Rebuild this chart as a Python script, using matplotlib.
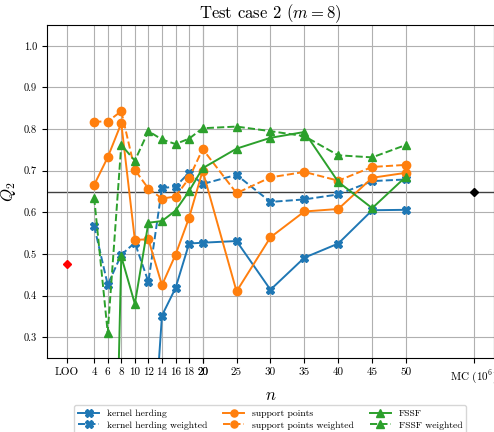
import matplotlib
matplotlib.use("Agg")
import matplotlib.pyplot as plt
import numpy as np

plt.rcParams['font.family'] = ['cmr10', 'DejaVu Serif']
plt.rcParams['mathtext.fontset'] = 'cm'
plt.rcParams['axes.unicode_minus'] = False
plt.rcParams['axes.formatter.use_mathtext'] = True

# sample sizes
ns = [4, 6, 8, 10, 12, 14, 16, 18, 20, 25, 30, 35, 40, 45, 50]

kh = [np.nan, np.nan, np.nan, np.nan, -0.13, 0.352, 0.418, 0.525, 0.527, 0.531, 0.414, 0.491, 0.525, 0.605, 0.606]
kh_w = [0.567, 0.426, 0.498, 0.527, 0.433, 0.658, 0.662, 0.695, 0.668, 0.690, 0.625, 0.631, 0.643, 0.675, 0.679]
sp = [0.666, 0.732, 0.814, 0.534, 0.535, 0.425, 0.498, 0.587, 0.700, 0.410, 0.540, 0.602, 0.608, 0.683, 0.695]
sp_w = [0.818, 0.818, 0.843, 0.702, 0.657, 0.633, 0.638, 0.682, 0.752, 0.646, 0.684, 0.697, 0.676, 0.709, 0.714]
fssf = [np.nan, -0.9, 0.494, 0.380, 0.575, 0.579, 0.604, 0.651, 0.706, 0.753, 0.779, 0.793, 0.673, 0.610, 0.686]
fssf_w = [0.635, 0.311, 0.762, 0.724, 0.795, 0.775, 0.764, 0.777, 0.802, 0.806, 0.795, 0.783, 0.737, 0.732, 0.762]

q2_loo = 0.477
q2_mc = 0.65
x_loo = 0
x_mc = 60

tick_pos = [x_loo] + list(range(4, 21, 2)) + list(range(20, 51, 5)) + [x_mc]
tick_lab = ["LOO"] + [str(v) for v in range(4, 21, 2)] + [str(v) for v in range(20, 51, 5)] + ["MC ($10^6$)"]

fig = plt.figure(figsize=(4.94, 4.32), dpi=100)
ax = fig.add_axes([0.0945, 0.1713, 0.906, 0.7708])

ax.grid(True, color="#b0b0b0", linewidth=0.8, zorder=0)
ax.axhline(q2_mc, color="k", linewidth=1.0, alpha=0.75, zorder=1)

ax.plot(ns, kh, color="C0", marker="X", ms=6, lw=1.4, label="kernel herding")
ax.plot(ns, kh_w, color="C0", marker="X", ms=6, lw=1.4, ls="--", label="kernel herding weighted")
ax.plot(ns, sp, color="C1", marker="o", ms=6, lw=1.4, label="support points")
ax.plot(ns, sp_w, color="C1", marker="o", ms=6, lw=1.4, ls="--", label="support points weighted")
ax.plot(ns, fssf, color="C2", marker="^", ms=6, lw=1.4, label="FSSF")
ax.plot(ns, fssf_w, color="C2", marker="^", ms=6, lw=1.4, ls="--", label="FSSF weighted")

ax.plot([x_loo], [q2_loo], marker="D", color="red", ms=4.5, ls="none")
ax.plot([x_mc], [q2_mc], marker="D", color="black", ms=4.5, ls="none")

ax.set_xticks(tick_pos)
ax.set_xticklabels(tick_lab, fontsize=8)
ax.set_yticks(np.arange(0.3, 1.01, 0.1))
ax.set_yticklabels(["%.1f" % v for v in np.arange(0.3, 1.01, 0.1)], fontsize=7.5)
ax.set_xlim(-3, 63)
ax.set_ylim(0.25, 1.05)

ax.set_xlabel("$n$", fontsize=12, labelpad=2)
ax.set_ylabel("$Q_2$", fontsize=12, labelpad=4)
ax.set_title("Test case 2 ($m=8$)", fontsize=12, pad=4)

fig.legend(*ax.get_legend_handles_labels(), loc="lower center", ncol=3,
           bbox_to_anchor=(0.547, -0.015), fontsize=7, frameon=True,
           columnspacing=1.6, handlelength=2.2, borderpad=0.4, labelspacing=0.3,
           markerscale=0.85)

fig.savefig("out.png", dpi=100)
